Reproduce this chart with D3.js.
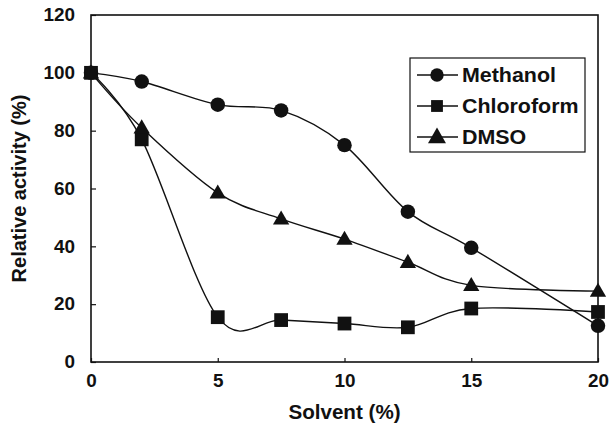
<!DOCTYPE html>
<html lang="en">
<head>
<meta charset="UTF-8">
<title>Relative activity vs solvent</title>
<script src="https://cdn.jsdelivr.net/npm/d3@7"></script>
<style>
    body { margin: 0; background: #fff; }
    svg text { font-family: "Liberation Sans", Arial, Helvetica, sans-serif; font-weight: bold; fill: #111; }
</style>
</head>
<body>
<div id="chart"></div>
<script>
    // values
    const solvent = [0, 2, 5, 7.5, 10, 12.5, 15, 20];
    const methanol = [100, 97, 89, 87, 75, 52, 39.5, 12.5];
    const chloroform = [100, 77, 15.5, 14.5, 13.3, 12, 18.5, 17.3];
    const dmso = [100, 81, 58.5, 49.5, 42.5, 34.5, 26.5, 24.5];
    const seriesNames = ["Methanol", "Chloroform", "DMSO"];
    const seriesSymbols = ["circle", "square", "triangle"];
    const xTicks = [0, 5, 10, 15, 20];
    const yTicks = [0, 20, 40, 60, 80, 100, 120];

    const width = 610, height = 441;
    const margin = { top: 15, right: 12, bottom: 79, left: 91 };

    const svg = d3.select("#chart").append("svg")
        .attr("width", width)
        .attr("height", height);

    const x = d3.scaleLinear().domain([0, 20]).range([margin.left, width - margin.right]);
    const y = d3.scaleLinear().domain([0, 120]).range([height - margin.bottom, margin.top]);

    // scanned figure has wide letters, stretch text horizontally
    function stretch(sel, k) {
        sel.each(function () {
            const w = this.getComputedTextLength();
            d3.select(this).attr("textLength", w * k).attr("lengthAdjust", "spacingAndGlyphs");
        });
    }

    // frame
    svg.append("rect")
        .attr("x", x(0)).attr("y", y(120))
        .attr("width", x(20) - x(0)).attr("height", y(0) - y(120))
        .attr("fill", "none").attr("stroke", "#111").attr("stroke-width", 1.6);

    // axes with inward ticks
    const xAxis = svg.append("g")
        .attr("transform", `translate(0,${y(0)})`)
        .call(d3.axisBottom(x).tickValues(xTicks).tickSizeInner(-4).tickSizeOuter(0).tickPadding(12));
    const yAxis = svg.append("g")
        .attr("transform", `translate(${x(0)},0)`)
        .call(d3.axisLeft(y).tickValues(yTicks).tickSizeInner(-5).tickSizeOuter(0).tickPadding(16));
    [xAxis, yAxis].forEach(a => {
        a.select(".domain").remove();
        a.selectAll("line").attr("stroke", "#111").attr("stroke-width", 1.2);
        a.selectAll("text").attr("font-size", 18).style("font-family", null).call(stretch, 1.05);
    });

    // axis titles
    svg.append("text")
        .attr("x", (x(0) + x(20)) / 2).attr("y", 419)
        .attr("text-anchor", "middle").attr("font-size", 20)
        .text("Solvent (%)").call(stretch, 1.03);
    svg.append("text")
        .attr("transform", `translate(26,${(y(0) + y(120)) / 2}) rotate(-90)`)
        .attr("text-anchor", "middle").attr("font-size", 20)
        .text("Relative activity (%)");

    const line = d3.line()
        .x(d => x(d[0]))
        .y(d => y(d[1]))
        .curve(d3.curveCardinal.tension(0));

    const symbolType = { circle: d3.symbolCircle, square: d3.symbolSquare, triangle: d3.symbolTriangle };
    const symbolSize = { circle: 165, square: 190, triangle: 115 };

    const allValues = [methanol, chloroform, dmso];

    allValues.forEach(vals => {
        svg.append("path")
            .datum(solvent.map((s, j) => [s, vals[j]]))
            .attr("d", line)
            .attr("fill", "none")
            .attr("stroke", "#111")
            .attr("stroke-width", 1.4);
    });

    allValues.forEach((vals, i) => {
        const sym = seriesSymbols[i];
        svg.append("g").selectAll("path")
            .data(solvent.map((s, j) => [s, vals[j]]))
            .join("path")
            .attr("transform", d => `translate(${x(d[0])},${y(d[1]) + (sym === "triangle" ? 1 : 0)})`)
            .attr("d", d3.symbol(symbolType[sym], symbolSize[sym]))
            .attr("fill", "#111");
    });

    // legend
    const legend = svg.append("g").attr("transform", "translate(410,58)");
    legend.append("rect")
        .attr("width", 175).attr("height", 94)
        .attr("fill", "#fff").attr("stroke", "#111").attr("stroke-width", 1.2);
    seriesNames.forEach((name, i) => {
        const row = legend.append("g").attr("transform", `translate(0,${17 + i * 31})`);
        row.append("line")
            .attr("x1", 7).attr("x2", 48)
            .attr("stroke", "#111").attr("stroke-width", 1.4);
        const sym = seriesSymbols[i];
        row.append("path")
            .attr("transform", `translate(27,${sym === "triangle" ? 1 : 0})`)
            .attr("d", d3.symbol(symbolType[sym], 140))
            .attr("fill", "#111");
        row.append("text")
            .attr("x", 52).attr("y", 7)
            .attr("font-size", 20)
            .text(name).call(stretch, 1.07);
    });
</script>
</body>
</html>
